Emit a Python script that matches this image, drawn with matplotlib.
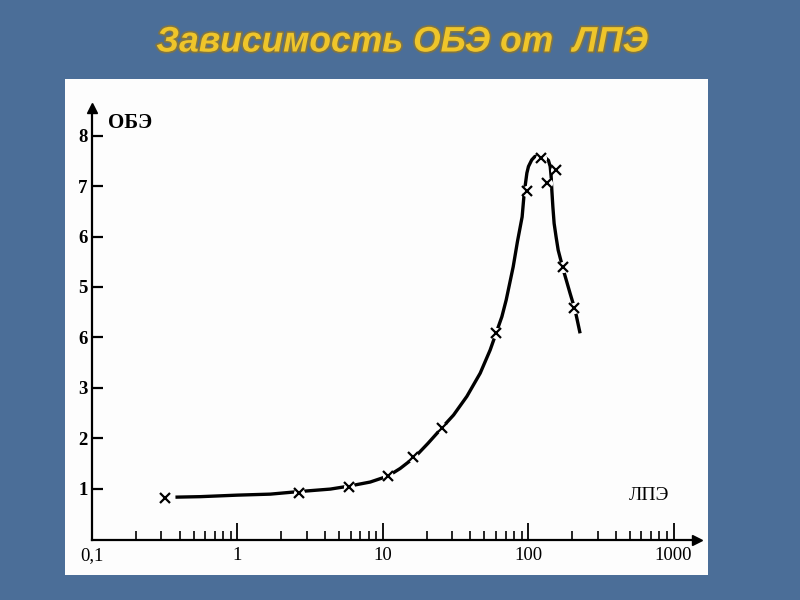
import matplotlib
matplotlib.use("Agg")
import matplotlib.pyplot as plt
import matplotlib.patheffects as pe
from matplotlib.patches import Rectangle
from matplotlib.ticker import FixedLocator, NullFormatter

# ---- data ----
let_points = [0.32, 2.64, 5.86, 10.9, 16.1, 25.5, 60.0, 97.6, 123, 134, 156, 174, 207]
rbe_points = [0.81, 0.92, 1.03, 1.25, 1.63, 2.20, 4.08, 6.90, 7.56, 7.06, 7.32, 5.40, 4.58]

let_curve = [0.375, 0.557, 1.0, 1.686, 2.63, 4.36, 5.88, 8.2, 10.9, 13.19, 16.7, 20.5,
             25.4, 30.7, 37.9, 46.8, 54.8, 65.95, 70.6, 78.9, 84.4, 90.9, 93.9, 98.0,
             100.5, 105.8, 111.4, 120.9, 130.6, 137.9, 141.8, 143.9, 145.5, 147.9,
             150.9, 155.7, 160.9, 174.5, 194.4, 210.4, 227.6]
rbe_curve = [0.83, 0.84, 0.87, 0.89, 0.94, 0.99, 1.05, 1.13, 1.25, 1.40, 1.63, 1.90,
             2.20, 2.46, 2.83, 3.29, 3.75, 4.41, 4.74, 5.40, 5.90, 6.39, 6.86, 7.26,
             7.39, 7.52, 7.59, 7.60, 7.57, 7.51, 7.39, 7.19, 6.92, 6.59,
             6.26, 5.99, 5.73, 5.34, 4.87, 4.54, 4.08]

y_ticks = [1, 2, 3, 4, 5, 6, 7, 8]
y_tick_labels = ["1", "2", "3", "6", "5", "6", "7", "8"]
x_ticks = [0.1, 1, 10, 100, 1000]
x_tick_labels = ["0,1", "1", "10", "100", "1000"]
x_minor = [m * d for d in (0.1, 1, 10, 100) for m in range(2, 10)]

title = "Зависимость ОБЭ от  ЛПЭ"
y_name = "ОБЭ"
x_name = "ЛПЭ"

W, H = 800, 600
fig = plt.figure(figsize=(8, 6), dpi=100)
fig.patch.set_facecolor("#4b6e98")

def fx(px):
    return px / W

def fy(py):
    return 1 - py / H

# white panel
fig.patches.append(Rectangle((fx(65), fy(575)), (708 - 65) / W, (575 - 79) / H,
                             transform=fig.transFigure, facecolor="#fdfdfd",
                             edgecolor="none", zorder=-5))

# title
fig.text(fx(402), fy(42), title, ha="center", va="center",
         fontsize=25.5, fontweight="bold", fontstyle="italic",
         family="Liberation Sans", color="#efc52a",
         path_effects=[pe.withStroke(linewidth=2.5, foreground="#7d7448")])

# axes
ax = fig.add_axes([fx(92), fy(540), (697 - 92) / W, (540 - 108) / H], zorder=2)
ax.set_facecolor("none")
ax.set_xscale("log")
ax.set_xlim(0.1, 1450)
ax.set_ylim(-0.02, 8.55)

for s in ("top", "right"):
    ax.spines[s].set_visible(False)
for s in ("left", "bottom"):
    ax.spines[s].set_linewidth(1.6)
    ax.spines[s].set_color("black")

# arrows
ax.plot(1, -0.02, ">", color="black", markersize=7, transform=ax.get_yaxis_transform(),
        clip_on=False)
ax.plot(0.1, 1, "^", color="black", markersize=7, transform=ax.get_xaxis_transform(),
        clip_on=False)

ax.yaxis.set_major_locator(FixedLocator(y_ticks))
ax.set_yticklabels(y_tick_labels)
ax.xaxis.set_major_locator(FixedLocator(x_ticks))
ax.set_xticklabels(x_tick_labels)
ax.xaxis.set_minor_locator(FixedLocator(x_minor))
ax.xaxis.set_minor_formatter(NullFormatter())

ax.tick_params(axis="y", which="major", direction="in", length=8, width=1.6,
               pad=3, labelsize=13.5, colors="black")
ax.tick_params(axis="x", which="major", direction="in", length=12, width=1.3,
               pad=5, labelsize=13.5)
ax.tick_params(axis="x", which="minor", direction="in", length=6.5, width=1.2)
for lab in ax.get_yticklabels() + ax.get_xticklabels():
    lab.set_family("Liberation Serif")
for lab in ax.get_yticklabels():
    lab.set_fontweight("bold")

# curve
ax.plot(let_curve, rbe_curve, color="black", lw=2.4, solid_capstyle="butt",
        solid_joinstyle="round", zorder=2, clip_on=False)
ax.plot(let_points, rbe_points, linestyle="none", marker="o", markersize=8,
        markerfacecolor="white", markeredgecolor="none", zorder=3, clip_on=False)
ax.plot(let_points, rbe_points, linestyle="none", marker="x", markersize=7,
        markeredgewidth=1.6, color="black", zorder=4, clip_on=False)

# axis names
fig.text(fx(108), fy(123), y_name, ha="left", va="center", fontsize=15,
         fontweight="bold", family="Liberation Serif")
fig.text(fx(629), fy(495), x_name, ha="left", va="center", fontsize=14,
         family="Liberation Serif")

fig.savefig("out.png", dpi=100, facecolor=fig.get_facecolor())
